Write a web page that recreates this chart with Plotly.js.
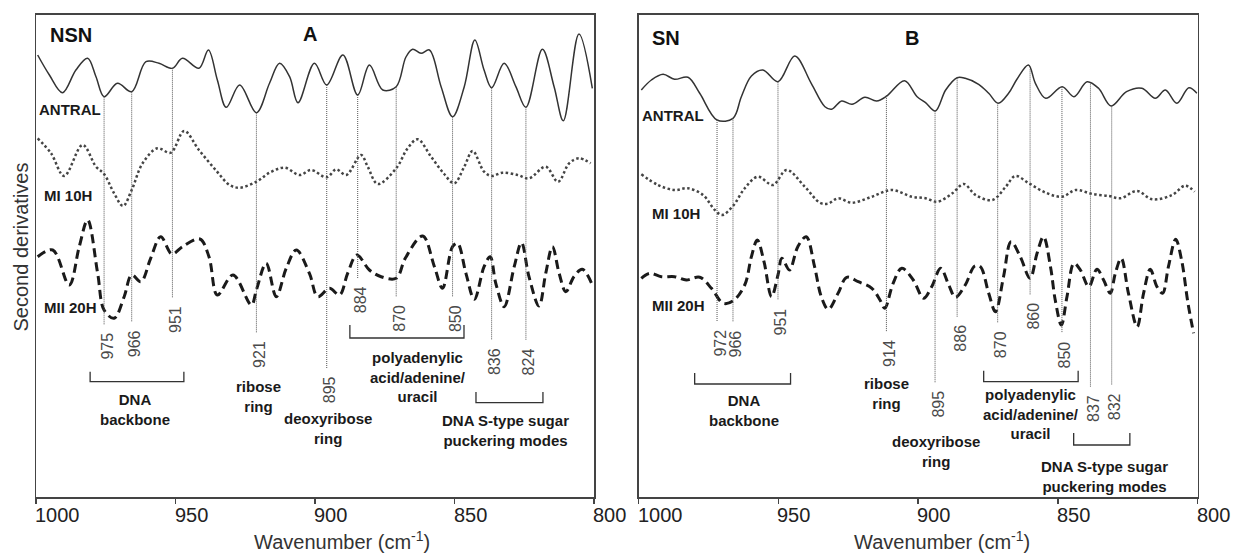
<!DOCTYPE html>
<html><head><meta charset="utf-8">
<script src="https://cdn.plot.ly/plotly-3.0.1.min.js"></script>
<style>html,body{margin:0;padding:0;background:#fff}#chart{width:1235px;height:554px}</style>
</head><body><div id="chart"></div>
<script>
// ---------- DATA (second-derivative spectra, arbitrary units, offset per sample) ----------
const tickVals = [1000, 950, 900, 850, 800];
const tickText = ['1000', '950', '900', '850', '800'];

// Panel A - NSN
const antralA_x = [999.4,995.2,990.5,985.7,981.5,978.5,975.6,970.8,965.7,960.6,955.9,951.1,947.5,941.6,938.2,935.0,931.8,927.0,921.0,916.3,912.7,909.1,906.1,900.2,895.8,890.0,884.7,880.5,875.7,870.9,867.4,865.0,862.0,859.0,854.8,850.7,846.5,842.7,839.4,836.7,832.2,828.0,824.4,818.5,814.3,811.0,805.4,800.6];
const antralA_y = [468.5,448.5,430.8,453.5,465.2,446.8,426.8,440.2,431.8,461.8,460.2,455.2,465.2,455.2,473.5,443.5,416.2,438.5,410.8,440.2,460.2,446.8,420.8,460.2,438.5,468.5,428.5,458.5,433.5,436.8,466.5,474.2,470.2,473.5,436.8,406.8,436.8,483.5,453.5,435.8,460.2,436.8,416.2,474.2,436.8,402.8,489.5,435.2];

const mi10A_x = [999.4,994.6,989.9,983.3,978.5,975.6,972.0,968.8,965.7,961.8,956.5,951.7,946.9,941.6,935.6,930.6,927.0,921.0,916.3,910.9,905.5,901.4,895.8,892.4,888.8,883.5,881.1,877.5,870.9,866.8,863.2,858.4,853.7,850.1,846.5,843.5,839.4,836.7,832.8,827.4,823.3,817.3,812.9,808.9,805.4,801.2];
const mi10A_y = [385.2,370.2,347.5,378.5,356.8,349.5,330.2,317.5,333.5,360.2,375.2,370.8,392.5,373.5,353.5,338.5,335.8,341.8,350.8,355.8,348.5,353.5,346.2,354.2,348.5,368.5,356.8,339.5,355.2,375.2,384.2,366.8,349.5,340.2,356.8,372.5,351.8,347.5,350.8,348.5,345.2,356.8,341.8,360.2,365.2,360.2];

const mii20A_x = [999.4,994.0,988.1,984.5,981.5,977.9,975.6,972.0,968.4,965.7,962.4,958.9,955.3,951.3,947.5,941.3,938.0,935.0,929.4,922.8,921.0,917.5,913.9,910.3,906.7,902.0,899.0,894.8,891.2,888.3,885.0,880.5,876.3,870.9,867.6,861.4,857.2,854.3,850.7,848.9,845.9,842.9,839.4,837.2,835.2,832.2,828.6,826.0,823.3,819.7,817.3,814.9,812.5,810.1,807.2,804.2,800.6];
const mii20A_y = [266.8,273.5,238.5,276.8,303.5,250.2,213.5,205.2,226.8,248.5,241.8,265.2,286.8,269.5,276.8,284.5,266.8,228.5,248.5,218.5,233.5,260.2,226.8,255.2,273.5,250.2,226.8,235.2,228.5,250.2,268.5,253.5,246.8,245.2,265.5,287.5,256.8,235.2,276.8,280.2,250.2,224.2,256.8,266.8,240.2,216.8,256.8,280.8,246.8,217.5,250.2,276.8,250.2,231.8,246.8,254.2,238.5];

const peakLabelsA = ['975','966','951','921','895','884','870','850','836','824'];
const peakPosA    = [975.6,965.7,951.1,921.0,895.8,884.7,870.9,850.7,836.7,824.4];

// Panel B - SN
const antralB_x = [999.0,995.4,991.2,987.1,982.3,978.1,971.9,966.2,963.2,959.6,955.5,950.1,944.1,938.2,933.3,930.9,927.3,923.6,919.0,914.8,911.2,904.8,900.3,897.3,893.8,890.1,886.0,883.1,878.3,874.7,871.3,867.6,864.6,860.5,858.0,854.3,848.4,844.2,839.5,835.4,830.9,825.4,819.9,815.1,811.5,807.4,803.1,800.2];
const antralB_y = [433.5,443.5,449.2,444.2,446.2,430.2,403.5,405.2,426.8,447.5,453.5,441.8,467.5,440.2,416.8,414.2,422.5,419.2,426.2,422.5,427.5,442.8,426.8,420.8,412.5,433.5,445.8,445.2,439.2,430.2,420.2,430.2,444.2,458.5,440.2,425.2,436.8,426.8,441.8,435.2,417.5,431.8,435.2,425.2,433.5,420.2,435.8,430.2];

const mi10B_x = [999.0,993.0,987.1,982.3,976.9,972.7,970.1,966.2,962.0,957.3,951.9,947.0,940.5,935.1,932.2,928.6,923.7,916.5,909.4,902.2,897.3,893.1,887.7,883.6,879.4,873.4,868.6,865.2,860.3,854.3,848.4,843.6,837.6,831.6,827.6,821.6,816.2,809.1,804.4,801.0];
const mi10B_y = [349.2,338.5,333.5,335.2,328.5,313.5,308.5,317.5,335.2,346.8,338.5,353.5,336.8,320.8,319.8,325.2,320.8,326.8,333.5,326.8,325.2,321.8,330.2,339.5,328.5,323.5,336.8,347.5,340.2,330.8,326.8,333.5,329.5,327.5,325.2,332.5,324.2,328.5,337.8,331.8];

const mii20B_x = [999.0,996.0,991.8,987.1,982.9,978.1,973.9,969.7,966.2,962.0,959.6,957.5,955.1,952.4,950.1,948.7,946.0,943.0,940.0,937.0,934.6,932.1,928.6,925.5,921.4,916.5,913.6,911.9,908.9,905.8,901.7,898.0,895.1,891.9,889.0,886.6,883.1,879.7,877.7,874.7,872.3,869.4,866.7,863.4,859.9,857.4,855.1,852.6,850.9,848.7,846.7,844.2,841.9,838.9,836.0,833.6,831.2,829.4,827.3,824.7,821.6,819.3,816.9,814.5,812.5,810.4,807.8,805.7,803.4,801.4];
const mii20B_y = [245.2,250.2,246.8,246.8,243.5,246.2,235.2,220.2,222.5,238.5,266.8,283.5,261.8,226.8,248.5,265.2,253.5,276.8,286.8,256.8,226.8,214.2,230.2,246.2,241.8,235.2,223.5,215.2,240.2,255.2,243.5,225.2,236.8,255.2,238.5,226.2,238.5,257.5,256.8,230.2,211.8,246.8,281.8,266.8,245.2,270.2,286.8,256.8,223.5,198.5,226.8,260.2,253.5,236.8,254.2,243.5,230.2,250.2,265.2,230.2,196.8,230.2,254.2,236.8,230.2,256.8,284.2,263.5,220.2,190.2];

const peakLabelsB = ['972','966','951','914','895','886','870','860','850','837','832'];
const peakPosB    = [971.9,966.2,950.1,911.3,893.9,886.0,871.5,859.9,848.5,838.3,830.7];

const seriesNames = ['ANTRAL', 'MI 10H', 'MII 20H'];
const panelNames = ['NSN', 'SN'];
const panelLetters = ['A', 'B'];

// ---------- LAYOUT HELPERS (positions/styles) ----------
const W = 1235, H = 554;
const FONT = '"Liberation Sans", Arial, Helvetica, sans-serif';
const px = x => x / W, py = y => 1 - y / H;
const domA = [36 / W, 594 / W], domB = [638.5 / W, 1197.5 / W];
const domY = [1 - 497 / H, 1 - 14.5 / H];
const yRange = [26.5, 509];

function interp(xs, ys, x) {
  for (let i = 0; i < xs.length - 1; i++) {
    const a = xs[i], b = xs[i + 1];
    if ((x <= a && x >= b) || (x >= a && x <= b)) {
      const t = (x - a) / (b - a);
      return ys[i] + t * (ys[i + 1] - ys[i]);
    }
  }
  return ys[0];
}

const styles = [
  {color: '#333333', width: 1.5},
  {color: '#444444', width: 2.5, dash: '2.5px,2.5px'},
  {color: '#1a1a1a', width: 3, dash: '9px,5px'}
];
function tr(x, y, xa, ya, st) {
  return {x, y, xaxis: xa, yaxis: ya, type: 'scatter', mode: 'lines',
    line: Object.assign({shape: 'spline', smoothing: 1}, st), hoverinfo: 'skip', showlegend: false};
}
const data = [
  tr(antralA_x, antralA_y, 'x', 'y', styles[0]),
  tr(mi10A_x, mi10A_y, 'x', 'y', styles[1]),
  tr(mii20A_x, mii20A_y, 'x', 'y', styles[2]),
  tr(antralB_x, antralB_y, 'x2', 'y2', styles[0]),
  tr(mi10B_x, mi10B_y, 'x2', 'y2', styles[1]),
  tr(mii20B_x, mii20B_y, 'x2', 'y2', styles[2])
];

const shapes = [], annotations = [];
const labFont = {family: FONT, size: 16, color: '#4a4a4a'};
const boldFont = {family: FONT, size: 15, color: '#1a1a1a', weight: 'bold'};

// peak marker lines: end points (where each dotted line stops) in y units
const lineEndA = [198.5,201.5,225.5,190.5,155.5,245.5,226.5,226.5,183.5,183.5];
const lineEndB = [201.5,201.5,223.5,191.5,140.5,206.5,200.5,228.5,190.5,136.5,138.5];
function peakLines(pos, labels, ends, sx, sy, xa, ya) {
  pos.forEach((p, i) => {
    const top = interp(sx, sy, p);
    shapes.push({type: 'line', xref: xa, yref: ya, x0: p, x1: p, y0: top, y1: ends[i],
      line: {color: '#555', width: 1, dash: '1px,1px'}});
    annotations.push({xref: xa, yref: ya, x: p, y: ends[i], xanchor: 'center', yanchor: 'top',
      yshift: -6, xshift: 3, textangle: -90, text: labels[i], showarrow: false, font: labFont});
  });
}
peakLines(peakPosA, peakLabelsA, lineEndA, antralA_x, antralA_y, 'x', 'y');
peakLines(peakPosB, peakLabelsB, lineEndB, antralB_x, antralB_y, 'x2', 'y2');

// brackets [xStart, xEnd, yBar, yTip]
function bracket(xa, ya, x0, x1, yb, yt) {
  shapes.push({type: 'path', xref: xa, yref: ya,
    path: `M ${x0},${yt} L ${x0},${yb} L ${x1},${yb} L ${x1},${yt}`,
    line: {color: '#333', width: 1.3}});
}
bracket('x', 'y', 980.6, 947.0, 141.8, 151.8);
bracket('x', 'y', 887.5, 846.6, 185.5, 198.5);
bracket('x', 'y', 842.3, 818.3, 120.8, 131.5);
bracket('x2', 'y2', 979.9, 945.6, 139.5, 150.5);
bracket('x2', 'y2', 876.5, 842.7, 141.8, 152.8);
bracket('x2', 'y2', 844.3, 824.2, 78.5, 90.5);

function note(xa, ya, x, y, text) {
  annotations.push({xref: xa, yref: ya, x, y, text, showarrow: false, align: 'center',
    xanchor: 'center', yanchor: 'middle', font: boldFont});
}
note('x', 'y', 964.5, 114.5, 'DNA<br>backbone');
note('x', 'y', 920.4, 127.5, 'ribose<br>ring');
note('x', 'y', 895.3, 95.5, 'deoxyribose<br>ring');
note('x', 'y', 863.1, 146.5, 'polyadenylic<br>acid/adenine/<br>uracil');
note('x', 'y', 831.9, 93, 'DNA S-type sugar<br>puckering modes');
note('x2', 'y2', 962.1, 113.5, 'DNA<br>backbone');
note('x2', 'y2', 911.3, 130.5, 'ribose<br>ring');
note('x2', 'y2', 893.6, 72.5, 'deoxyribose<br>ring');
note('x2', 'y2', 859.6, 110, 'polyadenylic<br>acid/adenine/<br>uracil');
note('x2', 'y2', 833.1, 47.5, 'DNA S-type sugar<br>puckering modes');

function pa(x, y, text, opt) {
  annotations.push(Object.assign({xref: 'paper', yref: 'paper', x: px(x), y: py(y), text,
    showarrow: false, xanchor: 'center', yanchor: 'middle'}, opt));
}
// series labels
const serFont = {family: FONT, size: 15, color: '#1a1a1a', weight: 'bold'};
pa(37, 110, seriesNames[0], {xanchor: 'left', font: serFont});
pa(42, 196, seriesNames[1], {xanchor: 'left', font: serFont});
pa(42, 307, seriesNames[2], {xanchor: 'left', font: serFont});
pa(639.5, 116, seriesNames[0], {xanchor: 'left', font: serFont});
pa(650, 214, seriesNames[1], {xanchor: 'left', font: serFont});
pa(650, 305, seriesNames[2], {xanchor: 'left', font: serFont});
// panel names
const pnFont = {family: FONT, size: 20, color: '#111', weight: 'bold'};
pa(71, 35, panelNames[0], {font: pnFont});
pa(310, 34, panelLetters[0], {font: pnFont});
pa(666, 38.5, panelNames[1], {font: pnFont});
pa(911.6, 38, panelLetters[1], {font: pnFont});
// axis titles
const axFont = {family: FONT, size: 20, color: '#333'};
pa(20, 247.5, 'Second derivatives', {textangle: -90, font: axFont});
pa(342, 554, 'Wavenumber (cm<sup>-1</sup>)', {yanchor: 'bottom', borderpad: 0, font: axFont});
pa(941.5, 554, 'Wavenumber (cm<sup>-1</sup>)', {yanchor: 'bottom', borderpad: 0, font: axFont});
// tick labels (left-aligned at each tick)
['x', 'x2'].forEach(xa => {
  tickVals.forEach((v, i) => {
    annotations.push({xref: xa, yref: 'paper', x: v, y: py(514.5), text: tickText[i],
      xanchor: 'left', yanchor: 'middle', xshift: -3, showarrow: false, font: {family: FONT, size: 20, color: '#222'}});
  });
});

const xBase = {range: [1000, 800], showgrid: false, zeroline: false, showline: true, mirror: true,
  linecolor: '#444', linewidth: 1.5, ticks: 'outside', ticklen: 5, tickcolor: '#444', tickwidth: 1.5,
  tickvals: tickVals, showticklabels: false, fixedrange: true};
const yBase = {range: yRange, showgrid: false, zeroline: false, showline: true, mirror: true,
  linecolor: '#444', linewidth: 1.5, ticks: '', showticklabels: false, domain: domY, fixedrange: true};

const layout = {
  width: W, height: H, margin: {l: 0, r: 0, t: 0, b: 0},
  paper_bgcolor: '#fff', plot_bgcolor: '#fff', showlegend: false,
  font: {family: FONT},
  xaxis: Object.assign({}, xBase, {domain: domA, anchor: 'y'}),
  xaxis2: Object.assign({}, xBase, {domain: domB, anchor: 'y2'}),
  yaxis: Object.assign({}, yBase, {anchor: 'x'}),
  yaxis2: Object.assign({}, yBase, {anchor: 'x2'}),
  shapes, annotations
};
Plotly.newPlot('chart', data, layout, {staticPlot: true, displayModeBar: false});
</script></body></html>
